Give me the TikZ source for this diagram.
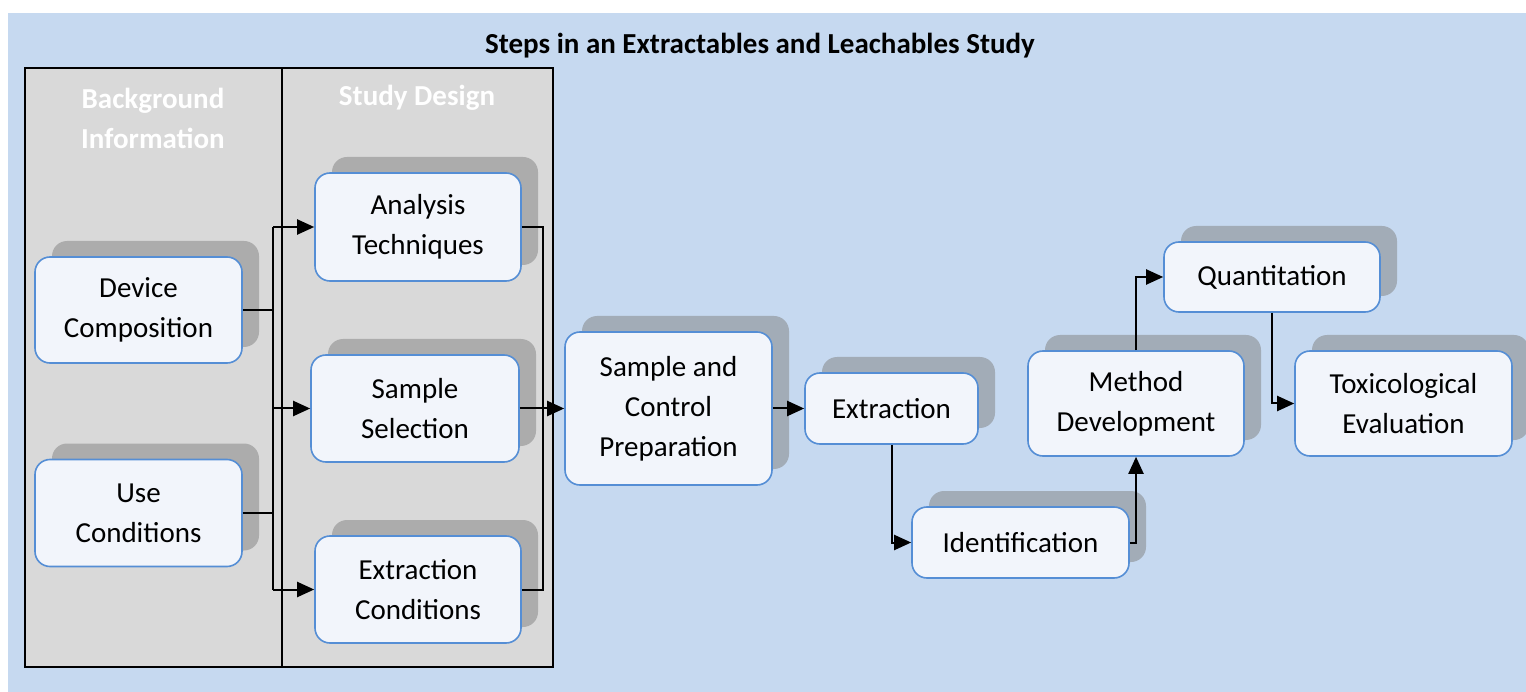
\documentclass[tikz,border=0pt]{standalone}
\usepackage{fontspec}
\setmainfont{Carlito}
\usetikzlibrary{arrows.meta,shadows}
\definecolor{bgblue}{HTML}{C6D9F0}
\definecolor{panelgray}{HTML}{D9D9D9}
\definecolor{boxfill}{HTML}{F2F5FB}
\definecolor{boxline}{HTML}{558ED5}
\begin{document}
\begin{tikzpicture}[x=1pt,y=-1pt,
  stepbox/.style={draw=boxline,line width=1.6pt,fill=boxfill,rounded corners=15pt,
    inner sep=0pt,align=center,font=\fontsize{29}{40}\selectfont,
    drop shadow={shadow xshift=17pt,shadow yshift=16pt,fill=black!50,opacity=.5}},
  panel/.style={draw=black,line width=2pt,fill=panelgray},
  head/.style={text=white,font=\bfseries\fontsize{29}{40}\selectfont,align=center},
  link/.style={line width=2pt},
  arr/.style={link,-{Triangle[length=17pt,width=15pt]}}]
  \useasboundingbox (0,0) rectangle (1526,692);
  \fill[bgblue] (8,13) rectangle (1526,692);
  \node[font=\bfseries\fontsize{29}{34}\selectfont] (title) at (760,46) {Steps in an Extractables and Leachables Study};
  \draw[panel] (25,68) rectangle (282,667);
  \draw[panel] (282,68) rectangle (553,667);
  \node[head] (bg) at (153,118) {Background\\Information};
  \node[head] (sd) at (417,98) {Study Design};
  \node[stepbox,minimum width=207pt,minimum height=106pt] (dev) at (138.5,310) {Device\\Composition};
  \node[stepbox,minimum width=207pt,minimum height=107pt] (use) at (138.5,513) {Use\\Conditions};
  \node[stepbox,minimum width=206pt,minimum height=108pt] (ana) at (418,227) {Analysis\\Techniques};
  \node[stepbox,minimum width=208pt,minimum height=107pt] (sel) at (415,408.5) {Sample\\Selection};
  \node[stepbox,minimum width=206pt,minimum height=107pt] (extc) at (418,589.5) {Extraction\\Conditions};
  \node[stepbox,minimum width=207pt,minimum height=153pt] (scp) at (668.5,408.5) {Sample and\\Control\\Preparation};
  \node[stepbox,minimum width=173pt,minimum height=71pt] (ext) at (891.5,408.5) {Extraction};
  \node[stepbox,minimum width=217pt,minimum height=71pt] (ide) at (1020.5,542.5) {Identification};
  \node[stepbox,minimum width=216pt,minimum height=105pt] (met) at (1136,403.5) {Method\\Development};
  \node[stepbox,minimum width=216pt,minimum height=70pt] (qua) at (1272,277) {Quantitation};
  \node[stepbox,minimum width=217pt,minimum height=105pt] (tox) at (1403.5,403.5) {Toxicological\\Evaluation};
  \coordinate (lbus) at (273,0);
  \coordinate (rbus) at (543,0);
  \draw[link] (dev.east) -- (dev.east -| lbus);
  \draw[link] (use.east) -- (use.east -| lbus);
  \draw[link] (lbus |- ana.west) -- (lbus |- extc.west);
  \draw[arr] (lbus |- ana.west) -- (ana.west);
  \draw[arr] (lbus |- sel.west) -- (sel.west);
  \draw[arr] (lbus |- extc.west) -- (extc.west);
  \draw[link] (ana.east) -- (rbus |- ana.east) -- (rbus |- extc.east) -- (extc.east);
  \draw[arr] (sel.east) -- (scp.west);
  \draw[arr] (scp.east) -- (ext.west);
  \draw[arr] (ext.south) |- (ide.west);
  \draw[arr] (ide.east) -| (met.south);
  \draw[arr] (met.north) |- (qua.west);
  \draw[arr] (qua.south) |- (tox.west);
\end{tikzpicture}
\end{document}
